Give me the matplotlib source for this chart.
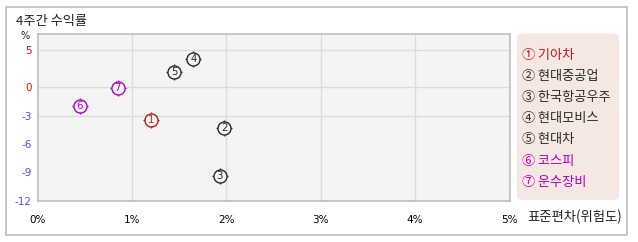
import matplotlib
matplotlib.use('Agg')
import matplotlib.pyplot as plt
import numpy as np
from matplotlib.patches import Rectangle, FancyBboxPatch

plt.rcParams['font.family'] = ['Noto Sans CJK KR', 'DejaVu Sans']

##############################################################################
# Data
##############################################################################
names = ['기아차', '현대중공업', '한국항공우주', '현대모비스', '현대차', '코스피', '운수장비']
circled = ['①', '②', '③', '④', '⑤', '⑥', '⑦']
std_dev = [1.20, 1.98, 1.93, 1.65, 1.45, 0.445, 0.85]   # 표준편차 (%)
returns = [-3.43, -4.28, -9.43, 3.86, 2.11, -1.99, -0.04]  # 4주간 수익률 (%)

x_ticks = [0, 1, 2, 3, 4, 5]
x_tick_labels = ['0%', '1%', '2%', '3%', '4%', '5%']
y_ticks = [5, 0, -3, -6, -9, -12]
y_grid = [5, 0, -3]

red = '#b0201c'
dark = '#2a2a2a'
magenta = '#b000c0'
colors = [red, dark, dark, dark, dark, magenta, magenta]

W, H = 638, 242


def px(x, y):
    # pixel coords -> figure fraction
    return x / W, 1 - y / H


# positive side of y axis is squeezed (5 units ~ 37px, 3 units ~ 28px)
k = 0.789


def fwd(y):
    y = np.asarray(y, dtype=float)
    return np.where(y >= 0, y * k, y)


def inv(t):
    t = np.asarray(t, dtype=float)
    return np.where(t >= 0, t / k, t)


##############################################################################
# Plotting
##############################################################################
fig = plt.figure(figsize=(W / 100, H / 100), dpi=100)
fig.patch.set_facecolor('white')

# outer frame
fig.add_artist(Rectangle(px(6, 235), 621 / W, 228 / H, transform=fig.transFigure,
                         fill=False, edgecolor='#bdbdbd', linewidth=1.2))

x0, y0 = px(37.5, 201)
x1, y1 = px(509.5, 34.3)
ax = fig.add_axes([x0, y0, x1 - x0, y1 - y0])
ax.set_facecolor('#f4f4f4')
ax.set_yscale('function', functions=(fwd, inv))
ax.set_xlim(0, 5)
ax.set_ylim(-12.05, 7.15)

for v in x_ticks[1:-1]:
    ax.axvline(v, color='#dcdcdc', linewidth=1, zorder=1)
for v in y_grid:
    ax.axhline(v, color='#dcdcdc', linewidth=1, zorder=1)

for s in ax.spines.values():
    s.set_color('#bdbdbd')
    s.set_linewidth(1.2)

ax.set_xticks(x_ticks)
ax.set_xticklabels(x_tick_labels, fontsize=7.5, family='DejaVu Sans')
ax.set_yticks(y_ticks)
ax.set_yticklabels([str(v) for v in y_ticks], fontsize=7.5, family='DejaVu Sans')
ax.yaxis.set_minor_locator(matplotlib.ticker.NullLocator())
ax.tick_params(length=0)
ax.tick_params(axis='x', pad=10)
ax.tick_params(axis='y', pad=4)
for lab, v in zip(ax.get_yticklabels(), y_ticks):
    lab.set_color('#ff0000' if v >= 0 else '#4a4aff')

# points: crosshair ticks + circle + number
for i in range(len(names)):
    ax.plot(std_dev[i], returns[i], marker='+', markersize=11.5, color=colors[i],
            markeredgewidth=0.9, zorder=3)
    ax.plot(std_dev[i], returns[i], marker='o', markersize=9.4, markerfacecolor='#f4f4f4',
            markeredgecolor=colors[i], markeredgewidth=1.0, zorder=4)
    ax.text(std_dev[i], returns[i], str(i + 1), color=colors[i], fontsize=7.3,
            ha='center', va='center', family='DejaVu Sans', zorder=5)

# texts
fig.text(*px(16, 21), '4주간 수익률', fontsize=9.5, ha='left', va='center', color='#222222')
fig.text(*px(25, 36), '%', fontsize=7, ha='center', va='center', color='#222222',
         family='DejaVu Sans')
fig.text(*px(527, 217), '표준편차(위험도)', fontsize=9.6, ha='left', va='center', color='#222222')

# legend box
lx0, ly0 = px(517, 200)
lx1, ly1 = px(619, 33.5)
fig.add_artist(FancyBboxPatch((lx0, ly0), lx1 - lx0, ly1 - ly0, transform=fig.transFigure,
                              boxstyle='round,pad=0,rounding_size=0.012',
                              facecolor='#f5e8e2', edgecolor='none'))
for i in range(len(names)):
    fig.text(*px(521.5, 55 + i * 21.2), circled[i] + '\u2009' + names[i], fontsize=9.5,
             ha='left', va='center', color=colors[i])

fig.savefig('out.png', dpi=100)
